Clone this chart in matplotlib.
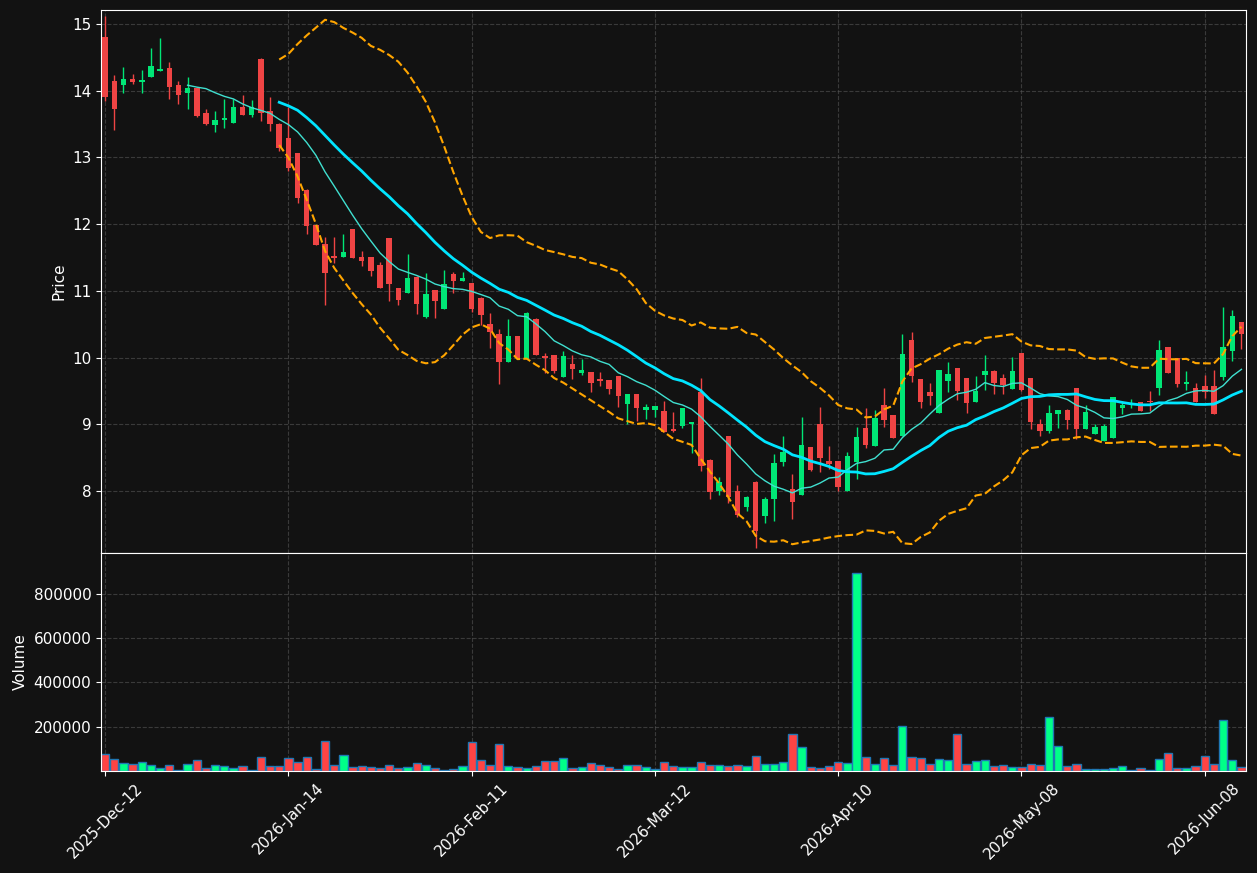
import numpy as np
import pandas as pd
import matplotlib
matplotlib.use("Agg")
import matplotlib.pyplot as plt

# ---------------- data ----------------
holidays = ["2025-12-24", "2025-12-25", "2026-01-01", "2026-02-16", "2026-04-03", "2026-05-25"]
all_days = pd.bdate_range("2025-12-12", "2026-06-30")
dates = [d for d in all_days if d.strftime("%Y-%m-%d") not in holidays][:125]

opens = [14.81, 14.15, 14.08, 14.18, 14.135, 14.20, 14.29, 14.345, 14.09, 13.96,
         14.045, 13.67, 13.48, 13.555, 13.51, 13.76, 13.63, 14.48, 13.70, 13.505,
         13.295, 13.06, 12.51, 11.98, 11.70, 11.525, 11.505, 11.925, 11.51, 11.505,
         11.385, 11.79, 11.04, 10.97, 11.21, 10.605, 11.01, 10.73, 11.25, 11.145,
         11.115, 10.90, 10.51, 10.36, 9.935, 10.32, 9.985, 10.585, 10.02, 10.035,
         9.71, 9.90, 9.77, 9.78, 9.665, 9.66, 9.72, 9.31, 9.455, 9.22,
         9.215, 9.20, 8.92, 8.975, 9.01, 9.49, 8.47, 8.00, 8.825, 8.005,
         7.755, 8.14, 7.62, 7.875, 8.44, 8.03, 7.935, 8.66, 9.005, 8.45,
         8.45, 7.995, 8.43, 8.95, 8.68, 9.29, 9.14, 8.83, 10.26, 9.675,
         9.48, 9.175, 9.645, 9.84, 9.69, 9.34, 9.74, 9.805, 9.69, 9.53,
         10.065, 9.69, 9.005, 8.90, 9.155, 9.215, 9.54, 8.935, 8.86, 8.755,
         8.80, 9.25, 9.295, 9.335, 9.35, 9.545, 10.155, 9.995, 9.607, 9.54,
         9.57, 9.57, 9.71, 10.10, 10.53]
highs = [15.12, 14.235, 14.355, 14.255, 14.31, 14.645, 14.795, 14.435, 14.15, 14.21,
         14.05, 13.725, 13.70, 13.875, 13.875, 13.94, 13.86, 14.495, 13.905, 13.51,
         13.75, 13.07, 12.52, 11.99, 11.80, 11.80, 11.845, 11.93, 11.59, 11.51,
         11.425, 11.79, 11.05, 11.55, 11.22, 11.26, 11.02, 11.31, 11.28, 11.275,
         11.12, 10.91, 10.67, 10.43, 10.58, 10.325, 10.68, 10.59, 10.075, 10.04,
         10.105, 10.035, 9.985, 9.785, 9.78, 9.665, 9.725, 9.455, 9.46, 9.31,
         9.275, 9.35, 9.19, 9.245, 9.035, 9.69, 8.48, 8.215, 8.83, 8.09,
         7.92, 8.145, 7.905, 8.55, 8.82, 8.26, 9.105, 8.665, 9.255, 8.67,
         8.455, 8.59, 8.965, 9.24, 9.215, 9.55, 9.145, 10.36, 10.385, 9.68,
         9.625, 9.81, 9.935, 9.845, 9.695, 9.72, 10.035, 9.81, 9.75, 10.01,
         10.07, 9.695, 9.075, 9.29, 9.215, 9.235, 9.545, 9.285, 9.01, 9.00,
         9.41, 9.355, 9.38, 9.34, 9.50, 10.26, 10.16, 10.00, 9.80, 9.625,
         9.745, 9.81, 10.755, 10.71, 10.535]
lows = [13.85, 13.41, 13.965, 14.095, 13.96, 14.20, 14.29, 13.875, 13.795, 13.72,
        13.60, 13.49, 13.375, 13.44, 13.51, 13.63, 13.60, 13.545, 13.40, 13.10,
        12.80, 12.31, 11.845, 11.68, 10.795, 11.41, 11.505, 11.495, 11.375, 11.225,
        11.04, 10.85, 10.795, 10.97, 10.66, 10.595, 10.595, 10.73, 10.97, 11.145,
        10.68, 10.49, 10.15, 9.61, 9.935, 9.99, 9.985, 10.04, 9.775, 9.77,
        9.71, 9.685, 9.74, 9.48, 9.575, 9.455, 9.255, 9.00, 9.05, 9.08,
        9.115, 8.88, 8.89, 8.945, 8.57, 8.295, 7.88, 7.935, 7.82, 7.605,
        7.695, 7.15, 7.52, 7.55, 8.38, 7.58, 7.935, 8.30, 8.29, 8.33,
        7.995, 7.995, 8.18, 8.64, 8.68, 8.955, 8.80, 8.83, 9.64, 9.24,
        9.29, 9.175, 9.49, 9.36, 9.165, 9.34, 9.51, 9.45, 9.45, 9.53,
        9.50, 8.925, 8.83, 8.875, 8.95, 8.935, 8.785, 8.935, 8.86, 8.755,
        8.80, 9.15, 9.25, 9.20, 9.205, 9.445, 9.77, 9.565, 9.51, 9.33,
        9.40, 9.16, 9.66, 9.955, 10.135]
closes = [13.90, 13.72, 14.18, 14.135, 14.15, 14.375, 14.33, 14.06, 13.93, 14.045,
          13.615, 13.495, 13.565, 13.595, 13.76, 13.63, 13.755, 13.66, 13.495, 13.135,
          12.835, 12.395, 11.975, 11.685, 11.27, 11.495, 11.58, 11.495, 11.445, 11.295,
          11.045, 11.10, 10.86, 11.19, 10.80, 10.95, 10.845, 11.10, 11.145, 11.19,
          10.735, 10.635, 10.38, 9.935, 10.32, 9.995, 10.675, 10.04, 9.995, 9.80,
          10.02, 9.83, 9.81, 9.615, 9.655, 9.53, 9.425, 9.455, 9.25, 9.26,
          9.275, 8.89, 8.905, 9.245, 9.035, 8.38, 7.99, 8.14, 7.905, 7.635,
          7.915, 7.40, 7.885, 8.425, 8.585, 7.83, 8.69, 8.31, 8.50, 8.40,
          8.055, 8.53, 8.81, 8.69, 9.09, 9.07, 8.80, 10.05, 9.73, 9.34,
          9.43, 9.81, 9.75, 9.50, 9.325, 9.50, 9.805, 9.615, 9.585, 9.805,
          9.51, 9.04, 8.90, 9.17, 9.215, 9.07, 8.935, 9.185, 8.96, 8.975,
          9.41, 9.29, 9.31, 9.205, 9.335, 10.11, 9.77, 9.60, 9.632, 9.335,
          9.485, 9.16, 10.155, 10.63, 10.355]
volumes = [77000, 54500, 36000, 32000, 41000, 27000, 12000, 27000, 4000, 32000,
           50000, 12000, 27000, 21000, 12000, 23000, 4500, 64000, 23000, 23000,
           59000, 41000, 64000, 9000, 136000, 27000, 73000, 17000, 23000, 18000,
           14000, 27000, 14000, 18000, 36000, 27000, 14000, 4500, 9000, 23000,
           132000, 50000, 27000, 123000, 23000, 18000, 14000, 23000, 45000, 45000,
           59000, 14000, 18000, 36000, 27000, 18000, 9000, 27000, 27000, 18000,
           9000, 41000, 23000, 18000, 18000, 41000, 27000, 27000, 23000, 27000,
           23000, 68000, 32000, 32000, 41000, 168000, 109000, 18000, 14000, 23000,
           41000, 36000, 895000, 64000, 32000, 59000, 27000, 205000, 64000, 59000,
           32000, 54500, 50000, 168000, 32000, 45000, 50000, 23000, 27000, 18000,
           18000, 32000, 27000, 245000, 114000, 23000, 32000, 9000, 9000, 9000,
           14000, 23000, 3000, 14000, 4500, 54500, 82000, 14000, 14000, 23000,
           68000, 32000, 232000, 50000, 18000]

df = pd.DataFrame({"Open": opens, "High": highs, "Low": lows,
                   "Close": closes, "Volume": volumes}, index=pd.DatetimeIndex(dates))

# ---------------- style ----------------
BG = "#121212"
UP_C, DN_C = "#00e676", "#ef4444"
VUP_C, VDN_C = "#00ff88", "#ff4444"
TXT = "white"

fig = plt.figure(figsize=(12.57, 8.73), dpi=100, facecolor=BG)
W, H = 1257.0, 873.0
ax1 = fig.add_axes([101 / W, 1 - 553 / H, 1145 / W, 543 / H])
ax2 = fig.add_axes([101 / W, 1 - 771 / H, 1145 / W, 218 / H], sharex=ax1)

x = np.arange(len(df))
up = df["Close"].values >= df["Open"].values

# candles
colors = np.where(up, UP_C, DN_C)
ax1.vlines(x, df["Low"], df["High"], colors=colors, linewidth=1.0, zorder=2)
body_bot = np.minimum(df["Open"], df["Close"]).values
body_h = np.maximum(np.abs(df["Close"] - df["Open"]).values, 0.02)
ax1.bar(x, body_h, bottom=body_bot, width=0.6, color=colors, linewidth=0, zorder=3)

# moving averages & bollinger bands
ma10 = df["Close"].rolling(10).mean()
ma20 = df["Close"].rolling(20).mean()
sd20 = df["Close"].rolling(20).std()
ax1.plot(x, ma10, color="#40e0d0", linewidth=1.0, zorder=4)
ax1.plot(x, ma20, color="#00e5ff", linewidth=2.0, zorder=4)
ax1.plot(x, ma20 + 2 * sd20, color="orange", linestyle="--", linewidth=1.5, zorder=4)
ax1.plot(x, ma20 - 2 * sd20, color="orange", linestyle="--", linewidth=1.5, zorder=4)

# volume
vcolors = np.where(up, VUP_C, VDN_C)
ax2.bar(x, df["Volume"], width=0.9, color=vcolors, edgecolor="#1f77b4", linewidth=1.0)

# axes styling
for ax in (ax1, ax2):
    ax.set_facecolor(BG)
    for s in ax.spines.values():
        s.set_color(TXT)
    ax.tick_params(colors=TXT, labelsize=11)
    ax.grid(True, color="#555555", linestyle="--", linewidth=0.8, alpha=0.6)
    ax.set_axisbelow(True)

ax1.set_xlim(-0.45, len(df) - 0.5)
ax1.set_ylim(7.07, 15.21)
ax1.set_yticks(range(8, 16))
ax1.set_ylabel("Price", color=TXT, fontsize=11)
plt.setp(ax1.get_xticklabels(), visible=False)

ax2.set_ylim(0, max(volumes) * 1.1)
ax2.set_yticks([200000, 400000, 600000, 800000])
ax2.set_yticklabels(["200000", "400000", "600000", "800000"])
ax2.set_ylabel("Volume", color=TXT, fontsize=11)

tick_idx = list(range(0, len(df), 20))
ax2.set_xticks(tick_idx)
ax2.set_xticklabels([df.index[i].strftime("%Y-%b-%d") for i in tick_idx],
                    rotation=45, color=TXT, fontsize=11)

fig.savefig("out.png", dpi=100, facecolor=BG)
